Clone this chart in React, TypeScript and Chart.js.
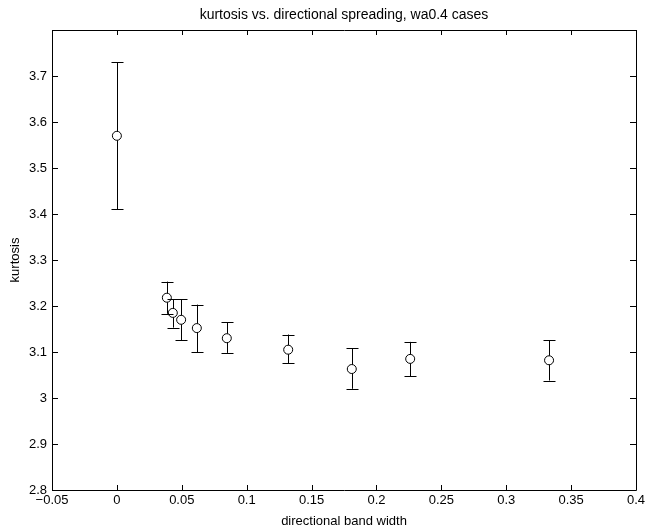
import React, { useEffect, useRef } from "react";
import { Chart, registerables } from "chart.js";

Chart.register(...registerables);

const TITLE = "kurtosis vs. directional spreading, wa0.4 cases";
const X_LABEL = "directional band width";
const Y_LABEL = "kurtosis";

const bandWidth = [0, 0.0385, 0.0431, 0.0495, 0.0616, 0.0847, 0.132, 0.181, 0.226, 0.333];
const kurtosis = [3.57, 3.218, 3.185, 3.17, 3.152, 3.13, 3.105, 3.063, 3.085, 3.082];
const errHigh = [3.73, 3.253, 3.215, 3.215, 3.203, 3.165, 3.138, 3.108, 3.122, 3.125];
const errLow = [3.41, 3.183, 3.153, 3.125, 3.1, 3.098, 3.075, 3.02, 3.047, 3.038];

const X_MIN = -0.05;
const X_MAX = 0.4;
const X_STEP = 0.05;
const Y_MIN = 2.8;
const Y_MAX = 3.8;
const Y_STEP = 0.1;

const FONT = "'Liberation Sans', Arial, sans-serif";

const framePlugin = {
  id: "matlabFrame",
  afterDatasetsDraw(chart: any) {
    const { ctx, chartArea } = chart;
    const xs = chart.scales.x;
    const ys = chart.scales.y;
    const { left, right, top, bottom } = chartArea;
    ctx.save();
    ctx.strokeStyle = "#000";
    ctx.lineWidth = 1;
    // error bars
    const capHalf = 6;
    for (let i = 0; i < bandWidth.length; i++) {
      const px = Math.round(xs.getPixelForValue(bandWidth[i])) + 0.5;
      const pHi = ys.getPixelForValue(errHigh[i]);
      const pLo = ys.getPixelForValue(errLow[i]);
      const pc = ys.getPixelForValue(kurtosis[i]);
      const r = 4.5;
      ctx.beginPath();
      ctx.moveTo(px, pHi);
      ctx.lineTo(px, pc - r);
      ctx.moveTo(px, pc + r);
      ctx.lineTo(px, pLo);
      ctx.moveTo(px - capHalf, Math.round(pHi) + 0.5);
      ctx.lineTo(px + capHalf, Math.round(pHi) + 0.5);
      ctx.moveTo(px - capHalf, Math.round(pLo) + 0.5);
      ctx.lineTo(px + capHalf, Math.round(pLo) + 0.5);
      ctx.stroke();
    }
    // box
    ctx.beginPath();
    ctx.rect(Math.round(left) + 0.5, Math.round(top) + 0.5, Math.round(right - left), Math.round(bottom - top));
    ctx.stroke();
    // inward ticks
    ctx.beginPath();
    xs.ticks.forEach((t: any) => {
      const p = Math.round(xs.getPixelForValue(t.value)) + 0.5;
      ctx.moveTo(p, bottom);
      ctx.lineTo(p, bottom - 5);
      ctx.moveTo(p, top);
      ctx.lineTo(p, top + 5);
    });
    ys.ticks.forEach((t: any) => {
      const p = Math.round(ys.getPixelForValue(t.value)) + 0.5;
      ctx.moveTo(left, p);
      ctx.lineTo(left + 6, p);
      ctx.moveTo(right, p);
      ctx.lineTo(right - 6, p);
    });
    ctx.stroke();
    // title
    ctx.fillStyle = "#000";
    ctx.font = `14px ${FONT}`;
    ctx.textAlign = "center";
    ctx.textBaseline = "middle";
    ctx.fillText(TITLE, (left + right) / 2, 15);
    ctx.restore();
  },
};

export default function App() {
  const ref = useRef<HTMLCanvasElement | null>(null);
  useEffect(() => {
    document.body.style.margin = "0";
    const canvas = ref.current;
    if (!canvas) return;
    const chart = new Chart(canvas, {
      type: "scatter",
      data: {
        datasets: [
          {
            data: bandWidth.map((x, i) => ({ x, y: kurtosis[i] })),
            showLine: false,
            pointStyle: "circle",
            pointRadius: 4.5,
            pointBorderWidth: 1,
            pointBorderColor: "#000",
            pointBackgroundColor: "rgba(0,0,0,0)",
          },
        ],
      },
      plugins: [framePlugin],
      options: {
        responsive: false,
        animation: false,
        layout: { padding: { top: 30, right: 19, left: 0, bottom: 0 } },
        plugins: {
          legend: { display: false },
          title: { display: false },
          tooltip: { enabled: false },
        },
        scales: {
          x: {
            type: "linear",
            min: X_MIN,
            max: X_MAX,
            grid: { display: false, drawTicks: false },
            border: { display: false },
            afterFit: (s: any) => {
              s.height = 40;
            },
            ticks: {
              stepSize: X_STEP,
              padding: 3,
              color: "#000",
              font: { family: FONT, size: 13 },
              maxRotation: 0,
              autoSkip: false,
              callback: (v: any) => String(Number(Number(v).toFixed(2))).replace("-", "\u2212"),
            },
            title: {
              display: true,
              text: X_LABEL,
              color: "#000",
              font: { family: FONT, size: 13 },
              padding: { top: 0, bottom: 1 },
            },
          },
          y: {
            type: "linear",
            min: Y_MIN,
            max: Y_MAX,
            grid: { display: false, drawTicks: false },
            border: { display: false },
            afterFit: (s: any) => {
              s.width = 52;
            },
            ticks: {
              stepSize: Y_STEP,
              padding: 5,
              color: "#000",
              font: { family: FONT, size: 13 },
              autoSkip: false,
              callback: (v: any) => {
                const n = Number(Number(v).toFixed(1));
                if (Math.abs(n - Y_MAX) < 1e-6) return "";
                return String(n);
              },
            },
            title: {
              display: true,
              text: Y_LABEL,
              color: "#000",
              font: { family: FONT, size: 13 },
              padding: { top: 8, bottom: 0 },
            },
          },
        },
      },
    });
    return () => chart.destroy();
  }, []);
  return <canvas ref={ref} width={655} height={530} style={{ display: "block" }} />;
}
